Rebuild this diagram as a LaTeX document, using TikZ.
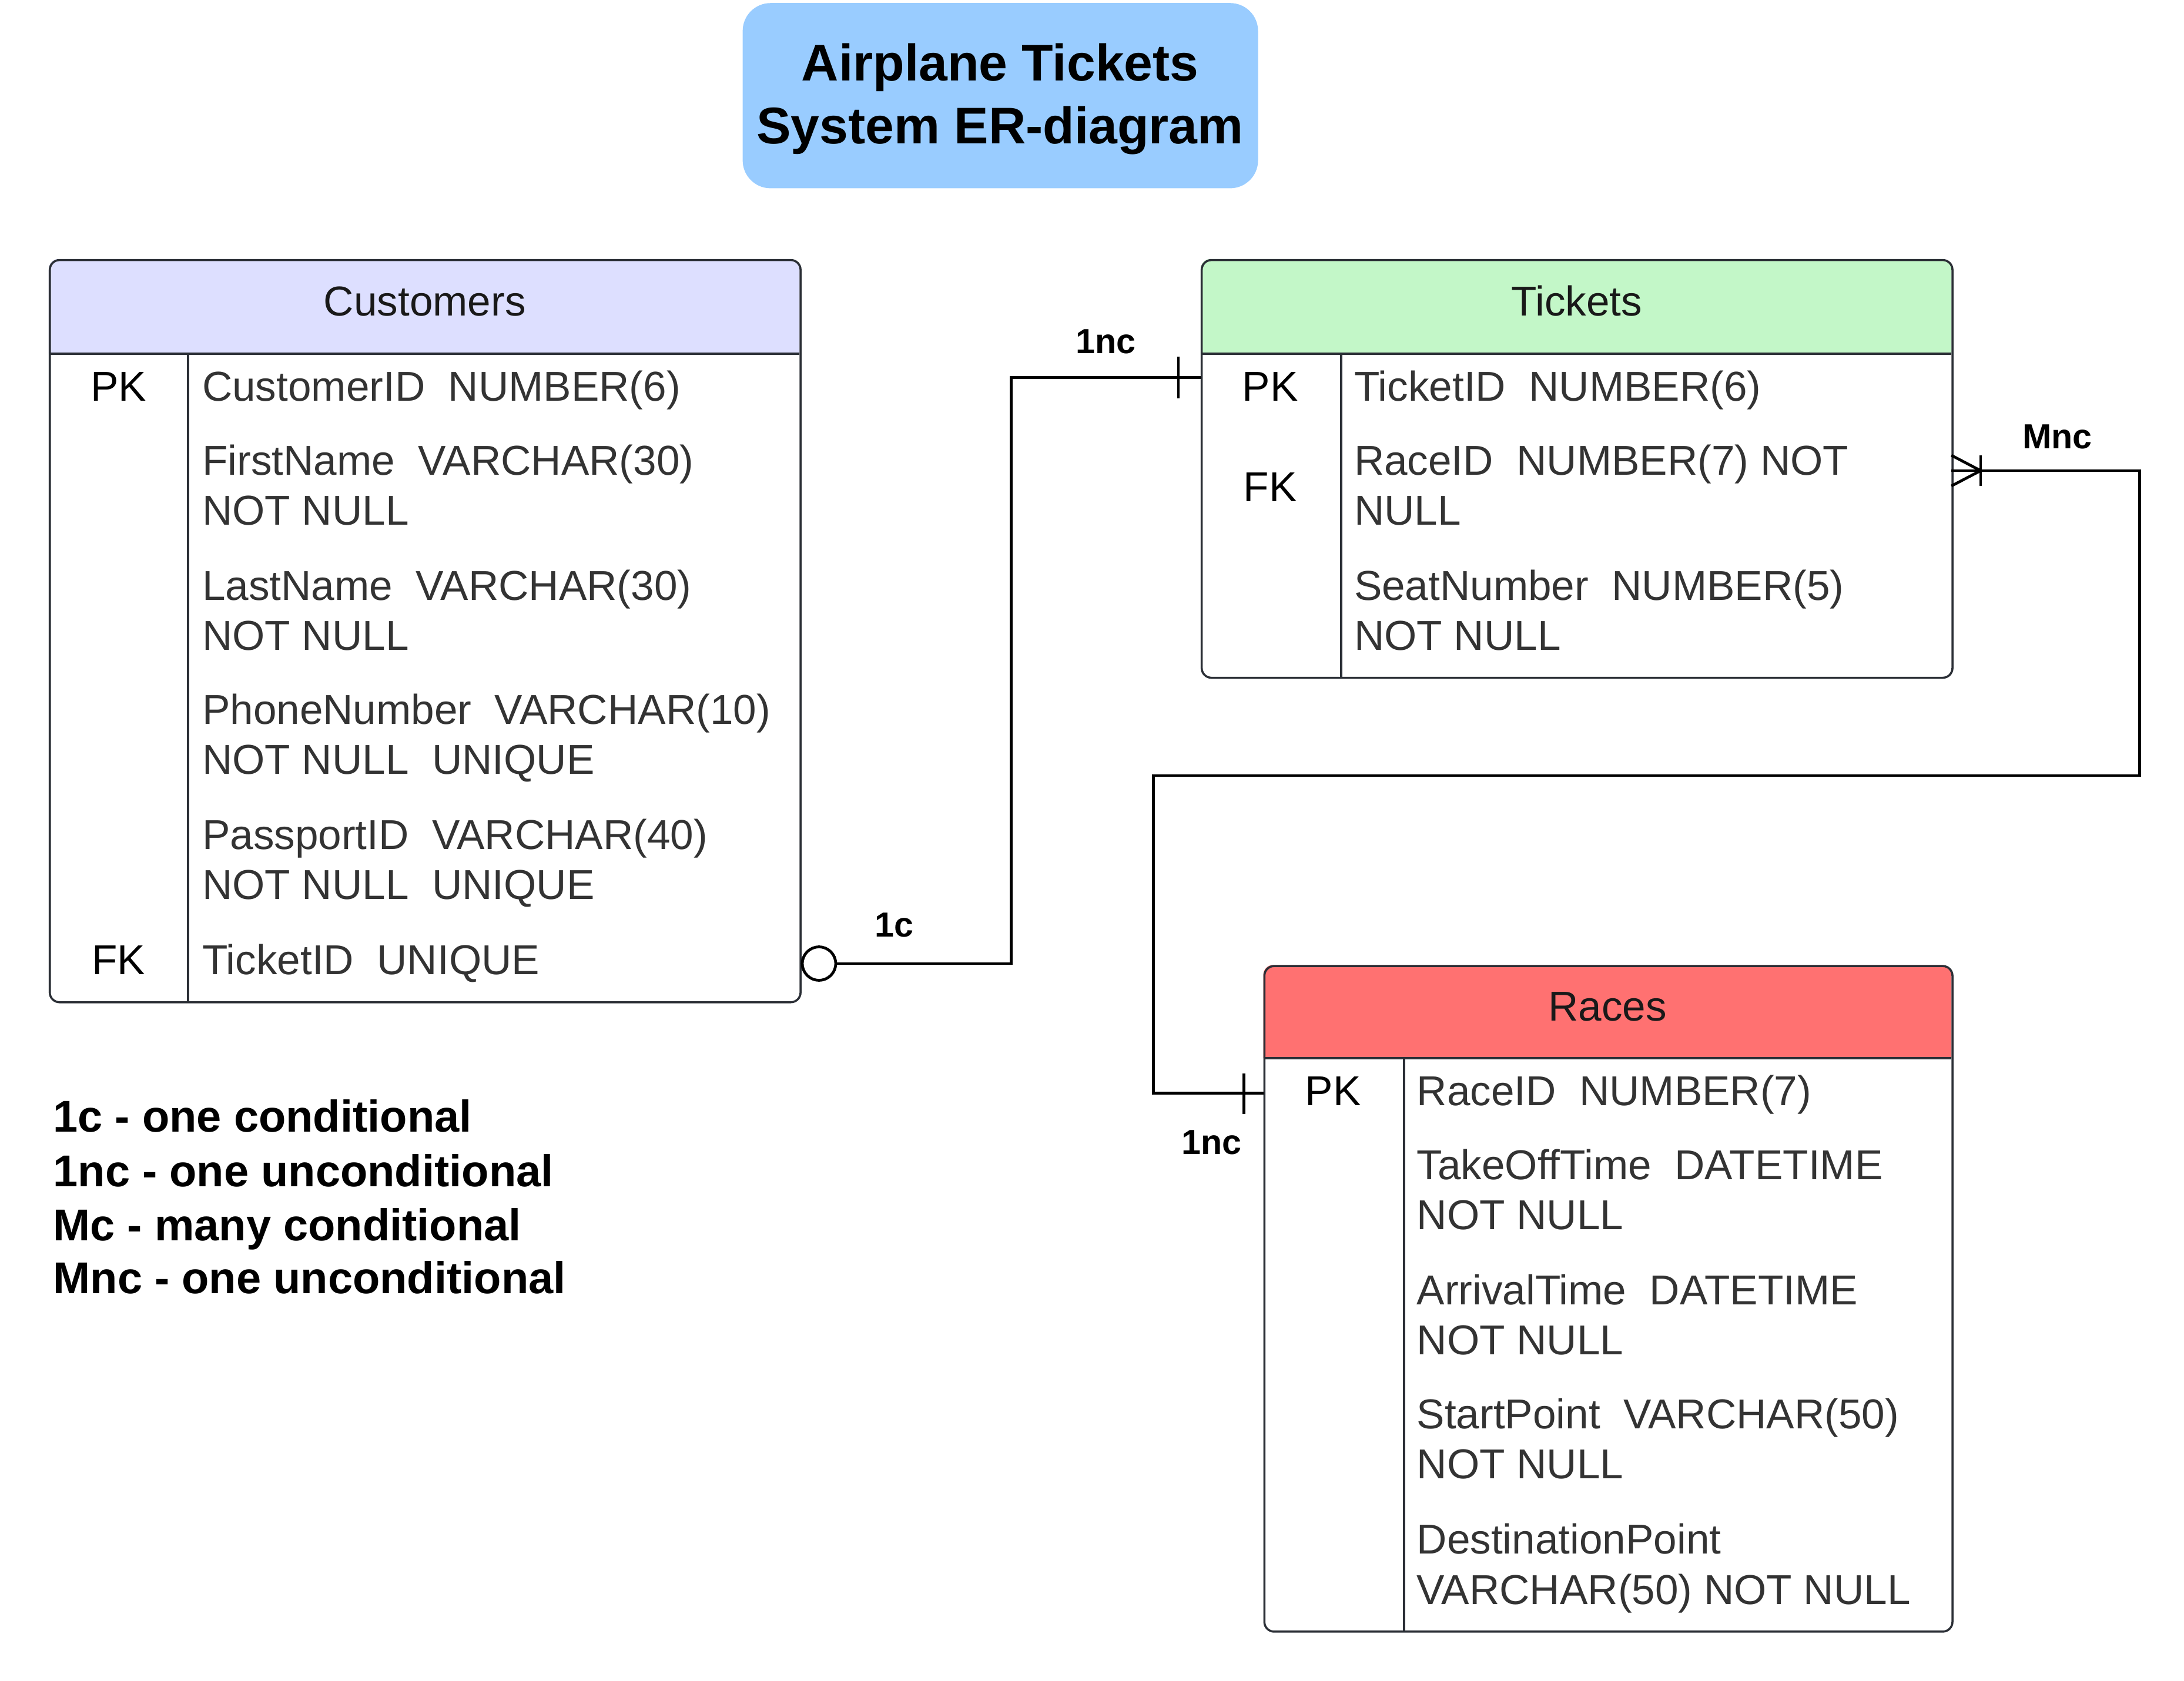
\documentclass[tikz,border=0pt]{standalone}
\usepackage{fontspec}
\setmainfont{Liberation Sans}
\definecolor{titleblue}{HTML}{99CCFF}
\definecolor{custhead}{HTML}{DDDFFF}
\definecolor{tickhead}{HTML}{C3F7C8}
\definecolor{racehead}{HTML}{FF7171}
\definecolor{bordergray}{HTML}{2B2F36}
\definecolor{fieldgray}{HTML}{333333}
\begin{document}
\begin{tikzpicture}[x=1pt,y=-1pt,
  fld/.style={anchor=base west, inner sep=0, text=fieldgray, font=\fontsize{30}{36}\selectfont},
  keyt/.style={anchor=base, inner sep=0, text=black, font=\fontsize{30}{36}\selectfont},
  hdr/.style={anchor=base, inner sep=0, text=black!90, font=\fontsize{30}{36}\selectfont},
  tbl/.style={draw=bordergray, line width=1.5pt, rounded corners=7pt, anchor=north west, inner sep=0},
  sep/.style={draw=bordergray, line width=1.5pt},
  conn/.style={draw=black, line width=2pt},
  lbl/.style={anchor=base, inner sep=0, font=\bfseries\fontsize{25}{30}\selectfont},
  leg/.style={anchor=base west, inner sep=0, font=\bfseries\fontsize{32}{39}\selectfont}]
\useasboundingbox (0,0) rectangle (1568,1207);

% Title
\node[fill=titleblue, rounded corners=20pt, minimum width=370pt, minimum height=133pt, anchor=north west, inner sep=0] (title) at (533,2) {};
\node[anchor=base, inner sep=0, font=\bfseries\fontsize{37}{45}\selectfont] (t1) at (718,58) {Airplane Tickets};
\node[anchor=base, inner sep=0, font=\bfseries\fontsize{37}{45}\selectfont] (t2) at (718,103) {System ER-diagram};

% Customers
\fill[custhead] (35,254) [rounded corners=7pt] -- (35,186) -- (574,186) [sharp corners] -- (574,254) -- cycle;
\node[tbl, minimum width=539pt, minimum height=533pt] (cust) at (35,186) {};
\draw[sep] (35,254) -- (574,254);
\draw[sep] (135,254) -- (135,719);
\node[hdr] (custh) at (305,227) {Customers};
\node[keyt] (cpk) at (85,288) {PK};
\node[fld] (c1a) at (145,288) {CustomerID\ \ NUMBER(6)};
\node[fld] (c2a) at (145,341) {FirstName\ \ VARCHAR(30)};
\node[fld] (c2b) at (145,377) {NOT NULL};
\node[fld] (c3a) at (145,431) {LastName\ \ VARCHAR(30)};
\node[fld] (c3b) at (145,467) {NOT NULL};
\node[fld] (c4a) at (145,520) {PhoneNumber\ \ VARCHAR(10)};
\node[fld] (c4b) at (145,556) {NOT NULL\ \ UNIQUE};
\node[fld] (c5a) at (145,610) {PassportID\ \ VARCHAR(40)};
\node[fld] (c5b) at (145,646) {NOT NULL\ \ UNIQUE};
\node[keyt] (cfk) at (85,700) {FK};
\node[fld] (c6a) at (145,700) {TicketID\ \ UNIQUE};

% Tickets
\fill[tickhead] (862,254) [rounded corners=7pt] -- (862,186) -- (1401,186) [sharp corners] -- (1401,254) -- cycle;
\node[tbl, minimum width=539pt, minimum height=300pt] (tick) at (862,186) {};
\draw[sep] (862,254) -- (1401,254);
\draw[sep] (963,254) -- (963,486);
\node[hdr] (tickh) at (1132,227) {Tickets};
\node[keyt] (tpkl) at (912,288) {PK};
\node[fld] (t1a) at (972,288) {TicketID\ \ NUMBER(6)};
\node[keyt] (tfkl) at (912,360) {FK};
\node[fld] (t2a) at (972,341) {RaceID\ \ NUMBER(7) NOT};
\node[fld] (t2b) at (972,377) {NULL};
\node[fld] (t3a) at (972,431) {SeatNumber\ \ NUMBER(5)};
\node[fld] (t3b) at (972,467) {NOT NULL};

% Races
\fill[racehead] (907,760) [rounded corners=7pt] -- (907,693) -- (1401,693) [sharp corners] -- (1401,760) -- cycle;
\node[tbl, minimum width=494pt, minimum height=478pt] (race) at (907,693) {};
\draw[sep] (907,760) -- (1401,760);
\draw[sep] (1008,760) -- (1008,1171);
\node[hdr] (raceh) at (1154,733) {Races};
\node[keyt] (rpkl) at (957,794) {PK};
\node[fld] (r1a) at (1017,794) {RaceID\ \ NUMBER(7)};
\node[fld] (r2a) at (1017,847) {TakeOffTime\ \ DATETIME};
\node[fld] (r2b) at (1017,883) {NOT NULL};
\node[fld] (r3a) at (1017,937) {ArrivalTime\ \ DATETIME};
\node[fld] (r3b) at (1017,973) {NOT NULL};
\node[fld] (r4a) at (1017,1026) {StartPoint\ \ VARCHAR(50)};
\node[fld] (r4b) at (1017,1062) {NOT NULL};
\node[fld] (r5a) at (1017,1116) {DestinationPoint};
\node[fld] (r5b) at (1017,1152) {VARCHAR(50) NOT NULL};

% Connector Customers -- Tickets
\coordinate (tpk) at (862,271);
\node[circle, draw=black, line width=2pt, minimum size=24pt, inner sep=0] (circ) at (588,692) {};
\draw[conn] (circ.east) -- (726,692) -- (726,271) -- (tpk);
\draw[conn] (846,256) -- (846,286);
\node[lbl] (l1nc) at (794,254) {1nc};
\node[lbl] (l1c) at (642,673) {1c};

% Connector Tickets -- Races
\coordinate (tfk) at (1401,338);
\coordinate (rpk) at (907,785);
\draw[conn] (tfk) -- (1536,338) -- (1536,557) -- (828,557) -- (828,785) -- (rpk);
\draw[conn] (1401,327) -- (1422,338) -- (1401,349);
\draw[conn] (1422,327) -- (1422,349);
\draw[conn] (893,771) -- (893,800);
\node[lbl] (lmnc) at (1477,322) {Mnc};
\node[lbl] (l1nc2) at (870,829) {1nc};

% Legend
\node[leg] (g1) at (38,813) {1c - one conditional};
\node[leg] (g2) at (38,852) {1nc - one unconditional};
\node[leg] (g3) at (38,891) {Mc - many conditional};
\node[leg] (g4) at (38,929) {Mnc - one unconditional};
\end{tikzpicture}
\end{document}
